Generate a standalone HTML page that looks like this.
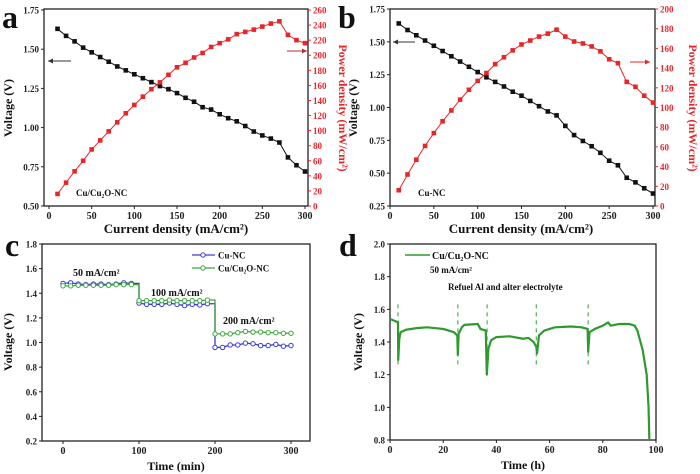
<!DOCTYPE html>
<html><head><meta charset="utf-8"><style>
html,body{margin:0;padding:0;background:#fff;}
svg{display:block;font-family:"Liberation Serif",serif;font-weight:bold;}
</style></head><body>
<svg id="fig" width="700" height="474" viewBox="0 0 700 474" xmlns="http://www.w3.org/2000/svg"></svg>
<script>
// ---- data ----
const aCurrent=[10,20,30,40,50,60,70,80,90,100,110,120,130,140,150,160,170,180,190,200,210,220,230,240,250,260,270,280,290,300];
const aVoltage=[1.63,1.585,1.55,1.51,1.48,1.45,1.42,1.39,1.365,1.34,1.315,1.29,1.265,1.245,1.22,1.19,1.165,1.13,1.115,1.085,1.06,1.04,1.01,0.975,0.95,0.93,0.905,0.81,0.76,0.72];
const aPower=[16,31,46,60,75,87,99,111,123,134,145,155,164,174,184,190,197,203,211,216,221,228,231,234,238,242,245,227,220,216];
const bCurrent=[10,20,30,40,50,60,70,80,90,100,110,120,130,140,150,160,170,180,190,200,210,220,230,240,250,260,270,280,290,300];
const bVoltage=[1.64,1.59,1.55,1.51,1.47,1.43,1.39,1.35,1.31,1.27,1.23,1.195,1.16,1.12,1.09,1.05,1.01,0.97,0.94,0.86,0.79,0.745,0.705,0.655,0.595,0.56,0.465,0.43,0.385,0.345];
const bPower=[16,32,47,61,74,86,97,108,118,127,135,144,151,158,164,168,172,175,179,172,167,165,162,157,149,145,126,121,112,105];
const cTime=[0,10,20,30,40,50,60,70,80,90,100,110,120,130,140,150,160,170,180,190,200,210,220,230,240,250,260,270,280,290,300];
const cCuNC=[1.48,1.485,1.475,1.47,1.475,1.475,1.47,1.475,1.485,1.48,1.32,1.31,1.31,1.31,1.32,1.31,1.3,1.31,1.305,1.315,0.96,0.96,0.98,0.98,0.995,0.99,0.975,0.975,0.985,0.97,0.975];
const cCuCu2O=[1.46,1.46,1.465,1.465,1.465,1.465,1.465,1.47,1.47,1.47,1.34,1.34,1.34,1.34,1.345,1.34,1.34,1.34,1.34,1.345,1.07,1.07,1.07,1.08,1.09,1.085,1.085,1.08,1.08,1.075,1.075];
const dTime=[0,1,3,3.1,3.5,4,6,10,14,20,24,25.3,25.5,25.8,27,28,33,34,36,36.4,37,38,40,45,50,52,54,55,55.3,56,58,62,68,72,74.3,74.5,75,77,80,82,83,86,90,92,93,95,96.5,97.2,97.5];
const dVoltage=[1.54,1.535,1.52,1.29,1.42,1.46,1.475,1.485,1.49,1.48,1.46,1.44,1.32,1.45,1.49,1.505,1.51,1.48,1.47,1.2,1.36,1.41,1.43,1.435,1.42,1.425,1.4,1.37,1.33,1.44,1.47,1.49,1.495,1.49,1.48,1.34,1.46,1.48,1.5,1.52,1.5,1.51,1.51,1.5,1.47,1.35,1.2,1.0,0.8];
const dRefuel=[3,25.5,36.5,55,74.5];
const aXTicks=[0,50,100,150,200,250,300];
const aYTicks=[0.5,0.75,1.0,1.25,1.5,1.75];
const aY2Ticks=[0,20,40,60,80,100,120,140,160,180,200,220,240,260];
const bYTicks=[0.25,0.5,0.75,1.0,1.25,1.5,1.75];
const bY2Ticks=[0,20,40,60,80,100,120,140,160,180,200];
const cXTicks=[0,100,200,300];
const cYTicks=[0.2,0.4,0.6,0.8,1.0,1.2,1.4,1.6,1.8];
const dXTicks=[0,20,40,60,80,100];
const dYTicks=[0.8,1.0,1.2,1.4,1.6,1.8,2.0];

const NS="http://www.w3.org/2000/svg";
const svg=document.getElementById('fig');
function el(tag,attrs,parent){const e=document.createElementNS(NS,tag);for(const k in attrs)e.setAttribute(k,attrs[k]);(parent||svg).appendChild(e);return e;}
function txt(s,attrs,parent){const e=el('text',attrs,parent);e.textContent=s;return e;}
function lin(d0,d1,r0,r1){return v=>r0+(v-d0)*(r1-r0)/(d1-d0);}
const RED="#e8262a";

function frame(name,x0,y0,x1,y1){
  const r=el('rect',{x:x0,y:y0,width:x1-x0,height:y1-y0,fill:'none',stroke:'#222','stroke-width':1.3});
  
  
}
function xAxis(name,ticks,sx,y,fmt){
  const g=el('g',{});
  
  
  ticks.forEach(t=>{
    el('line',{x1:sx(t),x2:sx(t),y1:y,y2:y+3,stroke:'#222','stroke-width':1},g);
    txt(fmt?fmt(t):String(t),{x:sx(t),y:y+13,'font-size':10,'text-anchor':'middle',fill:'#222'},g);
  });
}
function yAxis(name,ticks,sy,x,fmt,color,right){
  const g=el('g',{});
  
  
  ticks.forEach(t=>{
    el('line',{x1:x,x2:right?x+3:x-3,y1:sy(t),y2:sy(t),stroke:color||'#222','stroke-width':1},g);
    txt(fmt(t),{x:right?x+5:x-5,y:sy(t)+3.5,'font-size':9,'text-anchor':right?'start':'end',fill:color||'#222'},g);
  });
}
function series(name,xs,ys,sx,sy,color,marker,step,width){
  const g=el('g',{});
  
  
  let d='';
  xs.forEach((x,i)=>{
    const px=sx(x),py=sy(ys[i]);
    if(i===0)d+='M'+px+' '+py;
    else if(step&&Math.abs(ys[i]-ys[i-1])>0.08)d+=' L'+px+' '+sy(ys[i-1])+' L'+px+' '+py;
    else d+=' L'+px+' '+py;
  });
  el('path',{d:d,fill:'none',stroke:color,'stroke-width':width||1,'stroke-linejoin':'round'},g);
  if(marker==='sq')xs.forEach((x,i)=>{el('rect',{x:sx(x)-2.3,y:sy(ys[i])-2.3,width:4.6,height:4.6,fill:color},g);});
  if(marker==='o')xs.forEach((x,i)=>{el('circle',{cx:sx(x),cy:sy(ys[i]),r:2.2,fill:'#fff',stroke:color,'stroke-width':1},g);});
}
function label(s,x,y,size,name,extra){
  const t=txt(s,Object.assign({x:x,y:y,'font-size':size,fill:'#111'},extra||{}));
  
  
  return t;
}
function arrow(name,x1,x2,y,color){
  const g=el('g',{});
  
  
  el('line',{x1:x1,x2:x2,y1:y,y2:y,stroke:color,'stroke-width':1},g);
  const dir=x2>x1?1:-1;
  el('path',{d:`M${x2} ${y} L${x2-dir*5} ${y-2.5} L${x2-dir*5} ${y+2.5}Z`,fill:color},g);
}
const f2=v=>v.toFixed(2), f1=v=>v.toFixed(1), f0=v=>String(v);

// ---- panel a ----
{
  const sx=lin(0,300,49,305), sy=lin(0.5,1.75,206,10), sy2=lin(0,260,206,10);
  frame('panel-a',44,9,308,206);
  xAxis('panel-a',aXTicks,sx,206);
  yAxis('panel-a',aYTicks,sy,44,f2);
  yAxis('panel-a',aY2Ticks,sy2,308,f0,RED,true);
  series('panel-a-voltage-series',aCurrent,aVoltage,sx,sy,'#111','sq');
  series('panel-a-power-series',aCurrent,aPower,sx,sy2,RED,'sq');
  arrow('panel-a-voltage-arrow',71,48,61,'#333');
  arrow('panel-a-power-arrow',287,307,51,'#a33');
  label('Cu/Cu₂O-NC',76,196,9,'panel-a-sample-label');
  label('Current density (mA/cm²)',176,233,13,'panel-a-x-axis-title',{'text-anchor':'middle'});
  label('Voltage (V)',0,0,12,'panel-a-y-axis-title',{'text-anchor':'middle',transform:'translate(12,108) rotate(-90)'});
  label('Power density (mW/cm²)',0,0,12,'panel-a-y2-axis-title',{'text-anchor':'middle',fill:RED,transform:'translate(339,108) rotate(90)'});
  label('a',2,28,32,'panel-a-letter');
}
// ---- panel b ----
{
  const sx=lin(0,300,390,653), sy=lin(0.25,1.75,206,9), sy2=lin(0,200,206,9);
  frame('panel-b',390,9,655,206);
  xAxis('panel-b',aXTicks,sx,206);
  yAxis('panel-b',bYTicks,sy,390,f2);
  yAxis('panel-b',bY2Ticks,sy2,655,f0,RED,true);
  series('panel-b-voltage-series',bCurrent,bVoltage,sx,sy,'#111','sq');
  series('panel-b-power-series',bCurrent,bPower,sx,sy2,RED,'sq');
  arrow('panel-b-voltage-arrow',415,393,42,'#333');
  arrow('panel-b-power-arrow',630,650,62,RED);
  label('Cu-NC',418,196,9,'panel-b-sample-label');
  label('Current density (mA/cm²)',521,233,13,'panel-b-x-axis-title',{'text-anchor':'middle'});
  label('Voltage (V)',0,0,12,'panel-b-y-axis-title',{'text-anchor':'middle',transform:'translate(357,108) rotate(-90)'});
  label('Power density (mW/cm²)',0,0,12,'panel-b-y2-axis-title',{'text-anchor':'middle',fill:RED,transform:'translate(689,108) rotate(90)'});
  label('b',338,28,32,'panel-b-letter');
}
// ---- panel c ----
{
  const sx=lin(0,300,63,291), sy=lin(0.2,1.8,441,244);
  frame('panel-c',42,244,310,441);
  xAxis('panel-c',cXTicks,sx,441);
  yAxis('panel-c',cYTicks,sy,42,f1);
  series('panel-c-cu-nc-series',cTime,cCuNC,sx,sy,'#3b3bdc','o',true,1.3);
  series('panel-c-cu-cu2o-nc-series',cTime,cCuCu2O,sx,sy,'#3aa83a','o',true,1.3);
  const lg=el('g',{});
  
  
  el('line',{x1:192,x2:215,y1:255,y2:255,stroke:'#3b3bdc','stroke-width':1.3},lg);
  el('circle',{cx:203,cy:255,r:2.2,fill:'#fff',stroke:'#3b3bdc'},lg);
  txt('Cu-NC',{x:218,y:258.5,'font-size':9,fill:'#111'},lg);
  el('line',{x1:192,x2:215,y1:268,y2:268,stroke:'#3aa83a','stroke-width':1.3},lg);
  el('circle',{cx:203,cy:268,r:2.2,fill:'#fff',stroke:'#3aa83a'},lg);
  txt('Cu/Cu₂O-NC',{x:218,y:271.5,'font-size':9,fill:'#111'},lg);
  label('50 mA/cm²',73,276,10,'panel-c-50ma-annotation');
  label('100 mA/cm²',151,296,10,'panel-c-100ma-annotation');
  label('200 mA/cm²',223,324,10,'panel-c-200ma-annotation');
  label('Time (min)',176,470,12,'panel-c-x-axis-title',{'text-anchor':'middle'});
  label('Voltage (V)',0,0,12,'panel-c-y-axis-title',{'text-anchor':'middle',transform:'translate(12,342) rotate(-90)'});
  label('c',5,256,32,'panel-c-letter');
}
// ---- panel d ----
{
  const sx=lin(0,100,390,656), sy=lin(0.8,2.0,440,244);
  frame('panel-d',390,244,656,440);
  xAxis('panel-d',dXTicks,sx,440);
  yAxis('panel-d',dYTicks,sy,390,f1);
  const rg=el('g',{});
  
  
  dRefuel.forEach(t=>{el('line',{x1:sx(t),x2:sx(t),y1:sy(1.63),y2:sy(1.25),stroke:'#4caf50','stroke-width':1.2,'stroke-dasharray':'4,4'},rg);});
  series('panel-d-voltage-series',dTime,dVoltage,sx,sy,'#2e9a2e',null,false,2.2);
  const lg=el('g',{});
  
  
  el('line',{x1:405,x2:430,y1:255,y2:255,stroke:'#2e9a2e','stroke-width':1.5},lg);
  txt('Cu/Cu₂O-NC',{x:432,y:259,'font-size':10,fill:'#111'},lg);
  label('50 mA/cm²',430,273,9,'panel-d-current-annotation');
  label('Refuel Al and alter electrolyte',448,290,9,'panel-d-refuel-annotation');
  label('Time (h)',523,469,12,'panel-d-x-axis-title',{'text-anchor':'middle'});
  label('Voltage (V)',0,0,12,'panel-d-y-axis-title',{'text-anchor':'middle',transform:'translate(362,342) rotate(-90)'});
  label('d',339,256,32,'panel-d-letter');
}
</script>
</body></html>
